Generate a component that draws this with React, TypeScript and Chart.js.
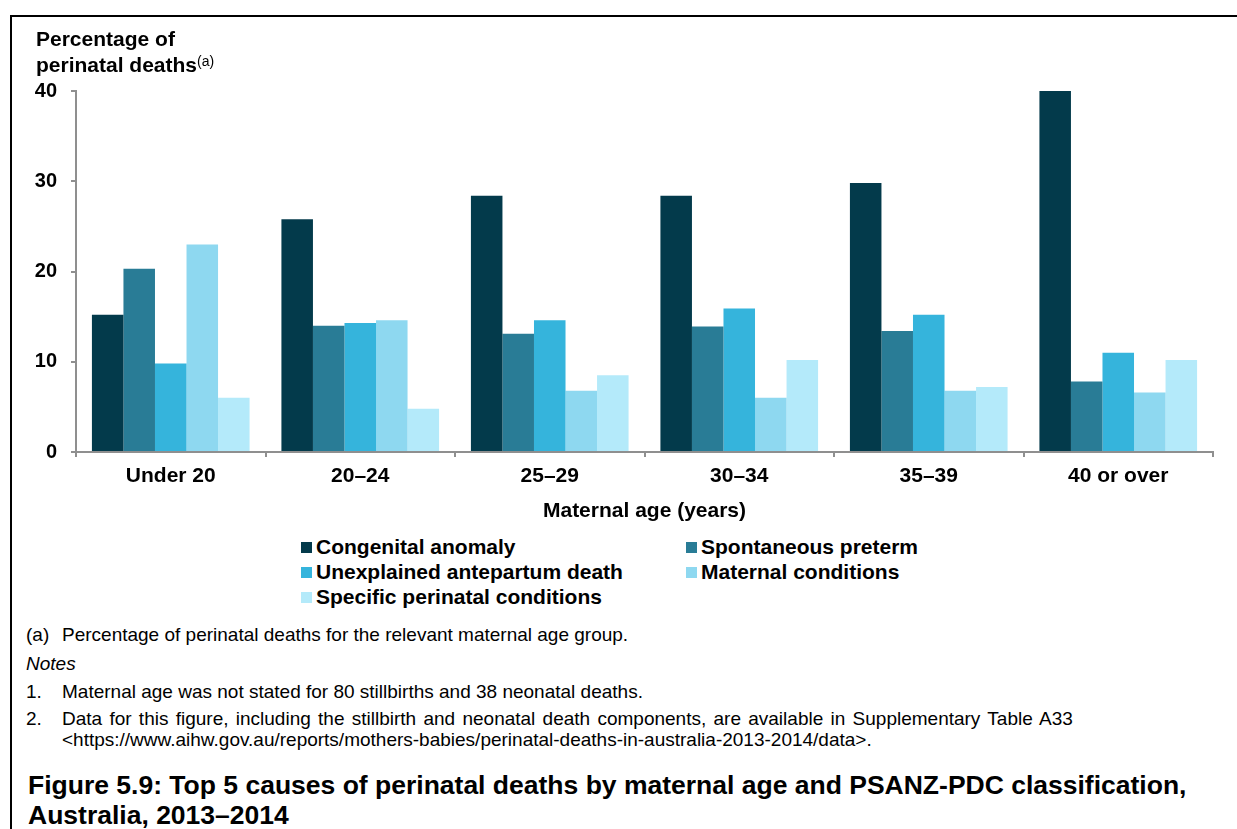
import React, { useEffect, useRef } from "react";
import { Chart, registerables } from "chart.js";

Chart.register(...registerables);

const categories = ["Under 20", "20–24", "25–29", "30–34", "35–39", "40 or over"];
const seriesLabels = [
  "Congenital anomaly",
  "Spontaneous preterm",
  "Unexplained antepartum death",
  "Maternal conditions",
  "Specific perinatal conditions",
];
const congenitalAnomaly = [15.2, 25.8, 28.4, 28.4, 29.8, 40.0];
const spontaneousPreterm = [20.3, 14.0, 13.1, 13.9, 13.4, 7.8];
const unexplainedAntepartum = [9.8, 14.3, 14.6, 15.9, 15.2, 11.0];
const maternalConditions = [23.0, 14.6, 6.8, 6.0, 6.8, 6.6];
const specificPerinatal = [6.0, 4.8, 8.5, 10.2, 7.2, 10.2];
const seriesColors = ["#033a4b", "#297c96", "#35b4dc", "#8ed8f0", "#b4eafa"];
const yTickValues = [0, 10, 20, 30, 40];

const FONT = '"Liberation Sans", Arial, Helvetica, sans-serif';
const AXIS_GREY = "#8f8f8f";

export default function App() {
  const ref = useRef<HTMLCanvasElement>(null);

  useEffect(() => {
    document.body.style.margin = "0";
    const values = [
      congenitalAnomaly,
      spontaneousPreterm,
      unexplainedAntepartum,
      maternalConditions,
      specificPerinatal,
    ];
    const chart = new Chart(ref.current as HTMLCanvasElement, {
      type: "bar",
      data: {
        labels: categories,
        datasets: values.map((v, i) => ({
          label: seriesLabels[i],
          data: v,
          backgroundColor: seriesColors[i],
          borderWidth: 0,
          categoryPercentage: 0.832,
          barPercentage: 1,
        })),
      },
      options: {
        responsive: false,
        animation: false,
        layout: { padding: { top: 91, left: 0, right: 24, bottom: 0 } },
        plugins: {
          legend: { display: false },
          tooltip: { enabled: false },
          title: { display: false },
        },
        scales: {
          x: {
            afterFit: (s: any) => {
              s.height = 78;
            },
            grid: {
              drawOnChartArea: false,
              drawTicks: true,
              tickLength: 5,
              color: AXIS_GREY,
              lineWidth: 2,
              offset: true,
            },
            border: { color: AXIS_GREY, width: 2 },
            ticks: {
              color: "#000",
              padding: 7,
              font: { family: FONT, size: 21, weight: "bold" },
              maxRotation: 0,
            },
            title: {
              display: true,
              text: "Maternal age (years)",
              color: "#000",
              font: { family: FONT, size: 21, weight: "bold" },
              padding: { top: 0, bottom: 6 },
            },
          },
          y: {
            min: 0,
            max: 40,
            afterFit: (s: any) => {
              s.width = 76;
            },
            afterBuildTicks: (s: any) => {
              s.ticks = yTickValues.map((v) => ({ value: v }));
            },
            grid: {
              drawOnChartArea: false,
              drawTicks: true,
              tickLength: 5,
              color: AXIS_GREY,
              lineWidth: 2,
            },
            border: { color: AXIS_GREY, width: 2 },
            ticks: {
              color: "#000",
              padding: 14,
              font: { family: FONT, size: 20, weight: "bold" },
            },
          },
        },
      },
    });
    return () => chart.destroy();
  }, []);

  const legendPos = [
    { x: 301, y: 547 },
    { x: 686, y: 547 },
    { x: 301, y: 572 },
    { x: 686, y: 572 },
    { x: 301, y: 597 },
  ];

  const note: React.CSSProperties = {
    position: "absolute",
    fontSize: 19,
    lineHeight: "21px",
    color: "#000",
    whiteSpace: "nowrap",
  };

  return (
    <div
      style={{
        position: "relative",
        width: 1237,
        height: 829,
        overflow: "hidden",
        background: "#fff",
        fontFamily: FONT,
      }}
    >
      <div
        style={{
          position: "absolute",
          left: 10,
          top: 15,
          right: -10,
          bottom: -10,
          borderTop: "2px solid #000",
          borderLeft: "2px solid #000",
        }}
      />
      <canvas
        ref={ref}
        width={1237}
        height={530}
        style={{ position: "absolute", left: 0, top: 0, width: 1237, height: 530 }}
      />
      <div
        style={{
          position: "absolute",
          left: 36,
          top: 27,
          fontSize: 21,
          fontWeight: "bold",
          lineHeight: "23px",
          whiteSpace: "nowrap",
        }}
      >
        Percentage of
        <br />
        perinatal deaths
        <span style={{ fontSize: 14, fontWeight: "normal", verticalAlign: 6 }}>(a)</span>
      </div>
      {seriesLabels.map((lab, i) => (
        <div
          key={lab}
          style={{
            position: "absolute",
            left: legendPos[i].x,
            top: legendPos[i].y - 12,
            height: 24,
            display: "flex",
            alignItems: "center",
            whiteSpace: "nowrap",
          }}
        >
          <span
            style={{
              display: "inline-block",
              width: 11,
              height: 11,
              background: seriesColors[i],
              marginRight: 4,
            }}
          />
          <span style={{ fontSize: 21, fontWeight: "bold", lineHeight: "24px" }}>{lab}</span>
        </div>
      ))}
      <div style={{ ...note, left: 26, top: 624 }}>(a)</div>
      <div style={{ ...note, left: 62, top: 624 }}>
        Percentage of perinatal deaths for the relevant maternal age group.
      </div>
      <div style={{ ...note, left: 26, top: 653, fontStyle: "italic" }}>Notes</div>
      <div style={{ ...note, left: 26, top: 681 }}>1.</div>
      <div style={{ ...note, left: 62, top: 681 }}>
        Maternal age was not stated for 80 stillbirths and 38 neonatal deaths.
      </div>
      <div style={{ ...note, left: 26, top: 708 }}>2.</div>
      <div style={{ ...note, left: 62, top: 708 }}>
        <span style={{ wordSpacing: 2 }}>
          Data for this figure, including the stillbirth and neonatal death components, are available in
          Supplementary Table A33
        </span>
        <br />
        &lt;https://www.aihw.gov.au/reports/mothers-babies/perinatal-deaths-in-australia-2013-2014/data&gt;.
      </div>
      <div
        style={{
          position: "absolute",
          left: 28,
          top: 770,
          fontSize: 26.5,
          fontWeight: "bold",
          lineHeight: "30px",
          whiteSpace: "nowrap",
        }}
      >
        Figure 5.9: Top 5 causes of perinatal deaths by maternal age and PSANZ-PDC classification,
        <br />
        Australia, 2013–2014
      </div>
    </div>
  );
}
